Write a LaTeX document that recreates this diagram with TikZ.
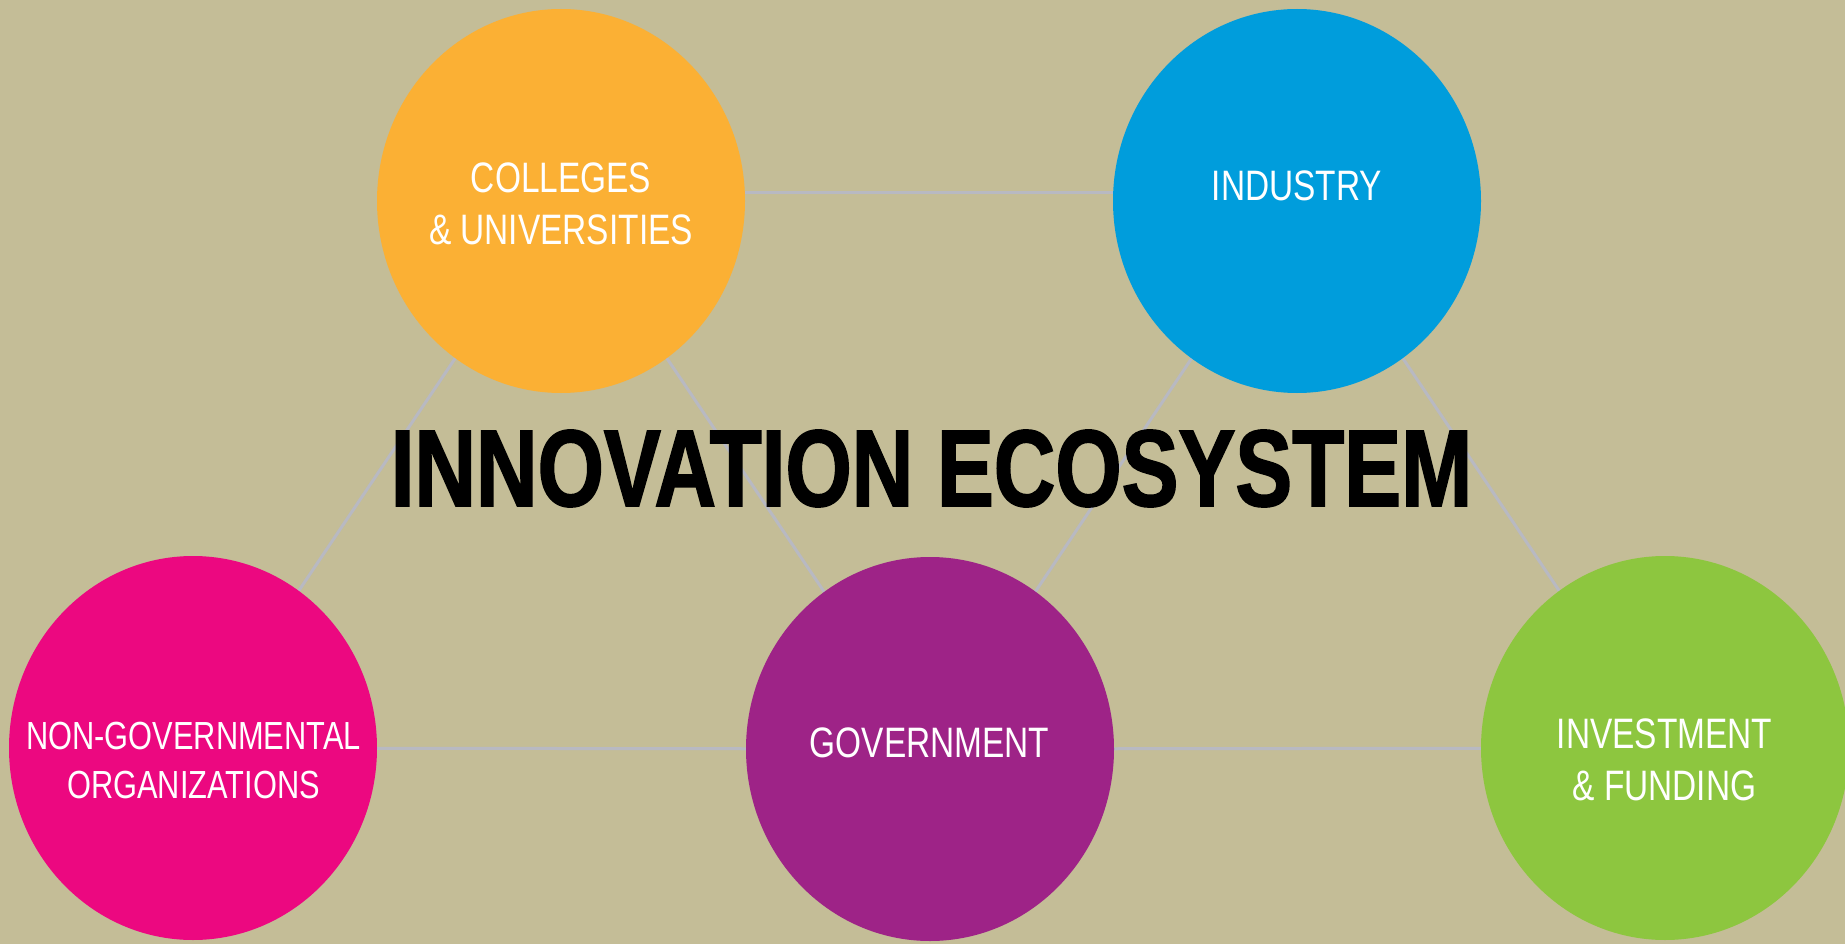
\documentclass[tikz,border=0pt]{standalone}
\usepackage{fontspec}
\usetikzlibrary{shapes.geometric}
\newfontfamily\lblfont[FakeStretch=0.785]{Liberation Sans}
\newfontfamily\ttlfont[FakeStretch=0.782,FakeBold=1.5]{Liberation Sans}
\definecolor{bg}{RGB}{196,189,151}
\definecolor{linkc}{RGB}{184,185,194}
\definecolor{corange}{RGB}{251,176,52}
\definecolor{cblue}{RGB}{0,157,220}
\definecolor{cmagenta}{RGB}{236,8,128}
\definecolor{cpurple}{RGB}{158,35,135}
\definecolor{cgreen}{RGB}{141,198,63}
\begin{document}
\begin{tikzpicture}[x=1pt,y=-1pt,
  hub/.style={ellipse, minimum width=368pt, minimum height=384pt, inner sep=0pt, outer sep=0pt},
  lbl/.style={text=white, align=center, inner sep=0pt, font=\lblfont\fontsize{42.6}{52}\selectfont},
  lblsmall/.style={lbl, font=\lblfont\fontsize{39.2}{49}\selectfont},
  link/.style={draw=linkc, line width=3pt},
  title/.style={text=black, inner sep=0pt, font=\ttlfont\bfseries\fontsize{109}{120}\selectfont}]
\useasboundingbox (0,0) rectangle (1845,944);
\fill[bg] (0,0) rectangle (1845,944);
% hub positions
\coordinate (pc) at (561,201);
\coordinate (pi) at (1297,201);
\coordinate (pn) at (193,748);
\coordinate (pg) at (930,749);
\coordinate (pf) at (1665,748);
% connectors
\draw[link] ([yshift=8pt]pc) -- ([yshift=8pt]pi);
\draw[link] (pc) -- (pn);
\draw[link] (pc) -- (pg);
\draw[link] (pi) -- (pg);
\draw[link] (pi) -- (pf);
\draw[link] (pn) -- (pg);
\draw[link] (pg) -- (pf);
% hubs
\node[hub, fill=corange] (coll) at (pc) {};
\node[hub, fill=cblue] (ind) at (pi) {};
\node[hub, fill=cmagenta] (ngo) at (pn) {};
\node[hub, fill=cpurple] (gov) at (pg) {};
\node[hub, fill=cgreen] (inv) at (pf) {};
% labels
\node[lbl] (tcoll) at (561,204) {COLLEGES\\\& UNIVERSITIES};
\node[lbl] (tind) at (1297,185.5) {INDUSTRY};
\node[lblsmall] (tngo) at (193.5,760) {NON-GOVERNMENTAL\\ORGANIZATIONS};
\node[lbl] (tgov) at (929.5,742.5) {GOVERNMENT};
\node[lbl] (tinv) at (1664.5,760) {INVESTMENT\\\& FUNDING};
% title
\node[title] (ttl) at (931.5,468.5) {INNOVATION ECOSYSTEM};
\end{tikzpicture}
\end{document}
